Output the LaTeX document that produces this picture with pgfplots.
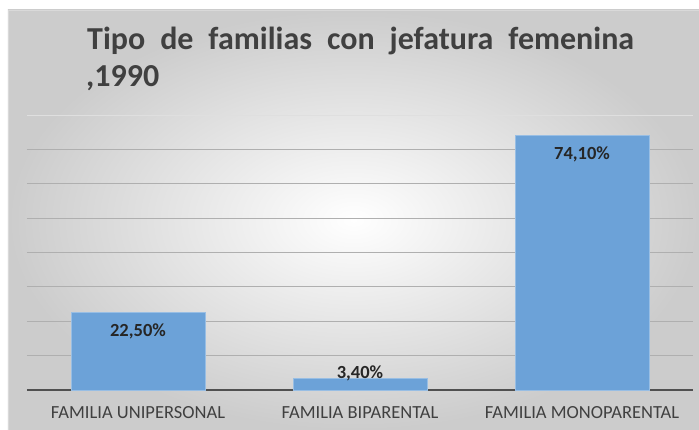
\documentclass[border=0pt]{standalone}
\usepackage{pgfplots}
\pgfplotsset{compat=1.18}
\usepackage{fontspec}
\setmainfont{Carlito}
\definecolor{barblue}{RGB}{108,162,216}
\definecolor{txtgray}{RGB}{64,64,64}
\definecolor{gridgray}{RGB}{175,175,175}
\definecolor{axisgray}{RGB}{80,80,80}

\begin{document}
\begin{tikzpicture}
% page and chart area (1bp = 1px of the reference)
\path[use as bounding box, fill=white] (-27bp,-40bp) rectangle (672bp,390bp);
\shade[inner color=white, outer color=gray!40] (-19bp,-40bp) rectangle (672bp,380bp);
\draw[gray!30, line width=0.6bp] (-19bp,-40bp) -- (-19bp,380bp) -- (672bp,380bp);

% title, first line justified
\node[anchor=base west, inner sep=0pt, text=txtgray, font=\fontsize{32bp}{38bp}\selectfont\bfseries]
  at (60bp,340bp) {\makebox[547bp][s]{Tipo de familias con jefatura femenina}};
\node[anchor=base west, inner sep=0pt, text=txtgray, font=\fontsize{32bp}{38bp}\selectfont\bfseries]
  at (59bp,303bp) {,1990};

\begin{axis}[
    scale only axis,
    width=666bp, height=275bp,
    ymin=0, ymax=80,
    xmin=-0.5, xmax=2.5,
    ybar, bar width=134bp,
    axis line style={draw=none},
    major tick length=0pt,
    ytick={10,20,...,70}, yticklabels={},
    ymajorgrids, grid style={gridgray, line width=0.9bp},
    extra y ticks={0}, extra y tick labels={},
    extra y tick style={grid style={axisgray, line width=1.6bp}},
    xtick=data,
    xticklabels={FAMILIA UNIPERSONAL, FAMILIA BIPARENTAL, FAMILIA MONOPARENTAL},
    xticklabel style={anchor=base, yshift=-28bp, text=txtgray,
                      font=\fontsize{18.5bp}{21bp}\selectfont},
    point meta=y,
    nodes near coords={\pgfmathprintnumber[fixed, fixed zerofill, precision=2, use comma, assume math mode=true]{\pgfplotspointmeta}\%},
    visualization depends on={\thisrow{off} \as \yoff},
    nodes near coords style={anchor=center, yshift=\yoff bp, text=black!85,
                             font=\fontsize{18.5bp}{21bp}\selectfont\bfseries},
]
% faint top line of the plot area
\draw[gray!25, line width=0.8bp] (axis cs:-0.5,80) -- (axis cs:2.5,80);
\addplot[fill=barblue, draw=barblue!70!white, line width=0.6bp] table {
x y off
0 22.5 -19
1 3.4 5
2 74.1 -19
};
\end{axis}
\end{tikzpicture}
\end{document}
